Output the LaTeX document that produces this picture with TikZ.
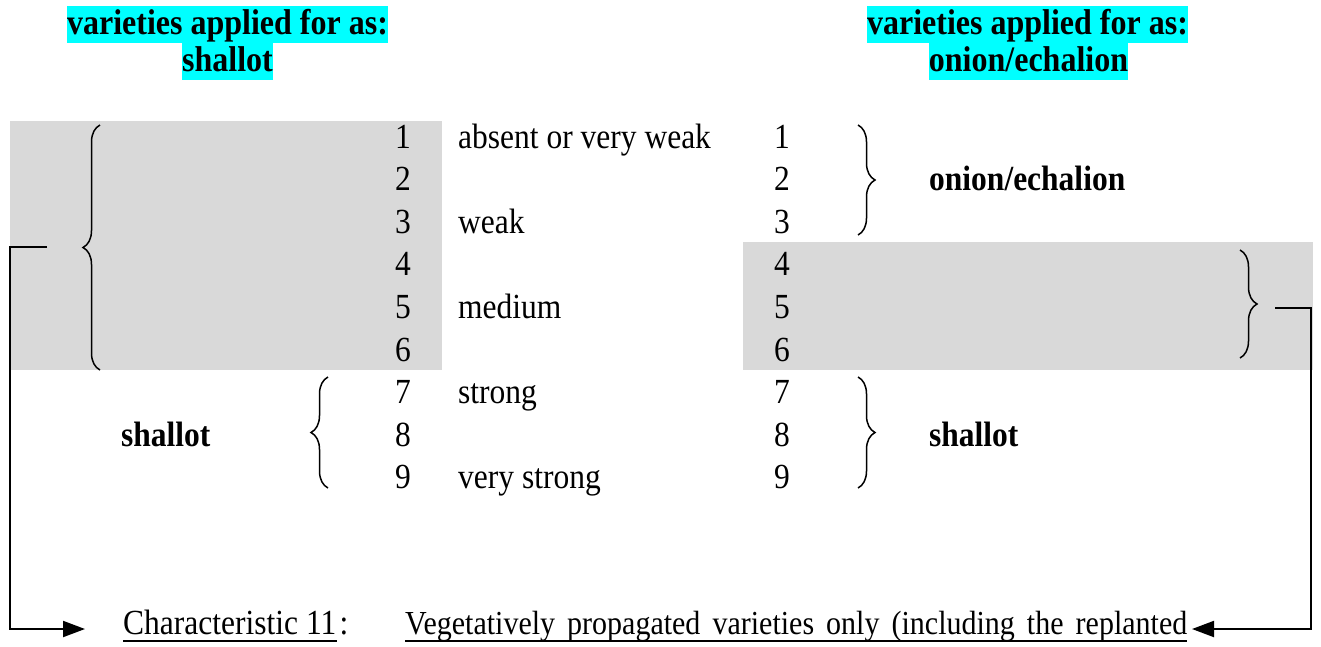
\documentclass[tikz,border=0pt]{standalone}
\usepackage{fontspec}
\usepackage{graphicx}
\setmainfont{Liberation Serif}
\usetikzlibrary{decorations.pathreplacing,arrows.meta}
\definecolor{cellgray}{RGB}{217,217,217}
\definecolor{hl}{RGB}{0,255,255}
\newcommand{\tallt}[1]{\scalebox{1}[1.12]{#1}}
\begin{document}
\begin{tikzpicture}[x=1pt,y=1pt,
  txt/.style={inner sep=0pt, anchor=base west, font=\fontsize{31.5}{36}\selectfont},
  num/.style={inner sep=0pt, anchor=base, font=\fontsize{31.5}{36}\selectfont},
  bold/.style={txt, font=\fontsize{31.5}{36}\selectfont\bfseries},
  head/.style={fill=hl, inner xsep=0pt, inner ysep=0pt, anchor=base, text height=28pt, text depth=9pt, font=\fontsize{32}{36}\selectfont\bfseries},
  curly/.style={decorate, decoration={brace, amplitude=17pt}, line width=1.5pt},
  conn/.style={line width=2pt},
  arr/.style={conn, -{Triangle[length=22pt,width=16pt]}},
  uline/.style={line width=1.6pt},
]
\path[use as bounding box] (0,0) rectangle (1321,-646);
% shaded regions
\fill[cellgray] (10,-121) rectangle (442,-370);
\fill[cellgray] (743,-242) rectangle (1313,-370);
% headers
\node[head] (hla) at (227.5,-34) {\tallt{varieties applied for as:}};
\node[head] (hlb) at (227.5,-71) {\tallt{shallot}};
\node[head] (hra) at (1027.5,-34) {\tallt{varieties applied for as:}};
\node[head] (hrb) at (1028.5,-71) {\tallt{onion/echalion}};
% rows
\foreach \i in {1,...,9}{
  \pgfmathsetmacro{\yb}{-148-42.6*(\i-1)}
  \node[num] (l\i) at (403,\yb) {\tallt{\i}};
  \node[num] (r\i) at (782,\yb) {\tallt{\i}};
}
\node[txt] (d1) at (458,-148) {\tallt{absent or very weak}};
\node[txt] (d3) at (458,-233.2) {\tallt{weak}};
\node[txt] (d5) at (458,-318.4) {\tallt{medium}};
\node[txt] (d7) at (458,-403.6) {\tallt{strong}};
\node[txt] (d9) at (458,-488.8) {\tallt{very strong}};
\node[bold] (onion) at (929,-190.6) {\tallt{onion/echalion}};
\node[bold] (shl) at (121,-446.2) {\tallt{shallot}};
\node[bold] (shr) at (929,-446.2) {\tallt{shallot}};
% braces
\coordinate (b1t) at (100,-125); \coordinate (b1b) at (100,-370);
\coordinate (b2t) at (328,-377); \coordinate (b2b) at (328,-488);
\coordinate (b3t) at (858,-125); \coordinate (b3b) at (858,-235);
\coordinate (b4t) at (858,-377); \coordinate (b4b) at (858,-488);
\coordinate (b5t) at (1240,-250); \coordinate (b5b) at (1240,-358);
\draw[curly] (b1b) -- (b1t);
\draw[curly] (b2b) -- (b2t);
\draw[curly] (b3t) -- (b3b);
\draw[curly] (b4t) -- (b4b);
\draw[curly] (b5t) -- (b5b);
% bottom text
\node[txt] (chr) at (123,-634) {\tallt{Characteristic 11}};
\node[txt, anchor=base west] (colon) at ([xshift=3pt]chr.base east) {\tallt{:}};
\node[txt, font=\fontsize{30}{36}\selectfont] (veg) at (405,-634) {\tallt{\makebox[782pt][s]{Vegetatively propagated varieties only (including the replanted}}};
\draw[uline] ([yshift=-7pt]chr.base west) -- ([yshift=-7pt]chr.base east);
\draw[uline] ([yshift=-7pt]veg.base west) -- ([yshift=-7pt]veg.base east);
% connectors
\coordinate (cl) at (47,-247);
\coordinate (cr) at (1275,-308);
\coordinate (al) at (85,-629);
\coordinate (ar) at (1192,-629);
\draw[arr] (cl) -- (10,-247) |- (al);
\draw[arr] (cr) -- (1311,-308) |- (ar);
\end{tikzpicture}
\end{document}
